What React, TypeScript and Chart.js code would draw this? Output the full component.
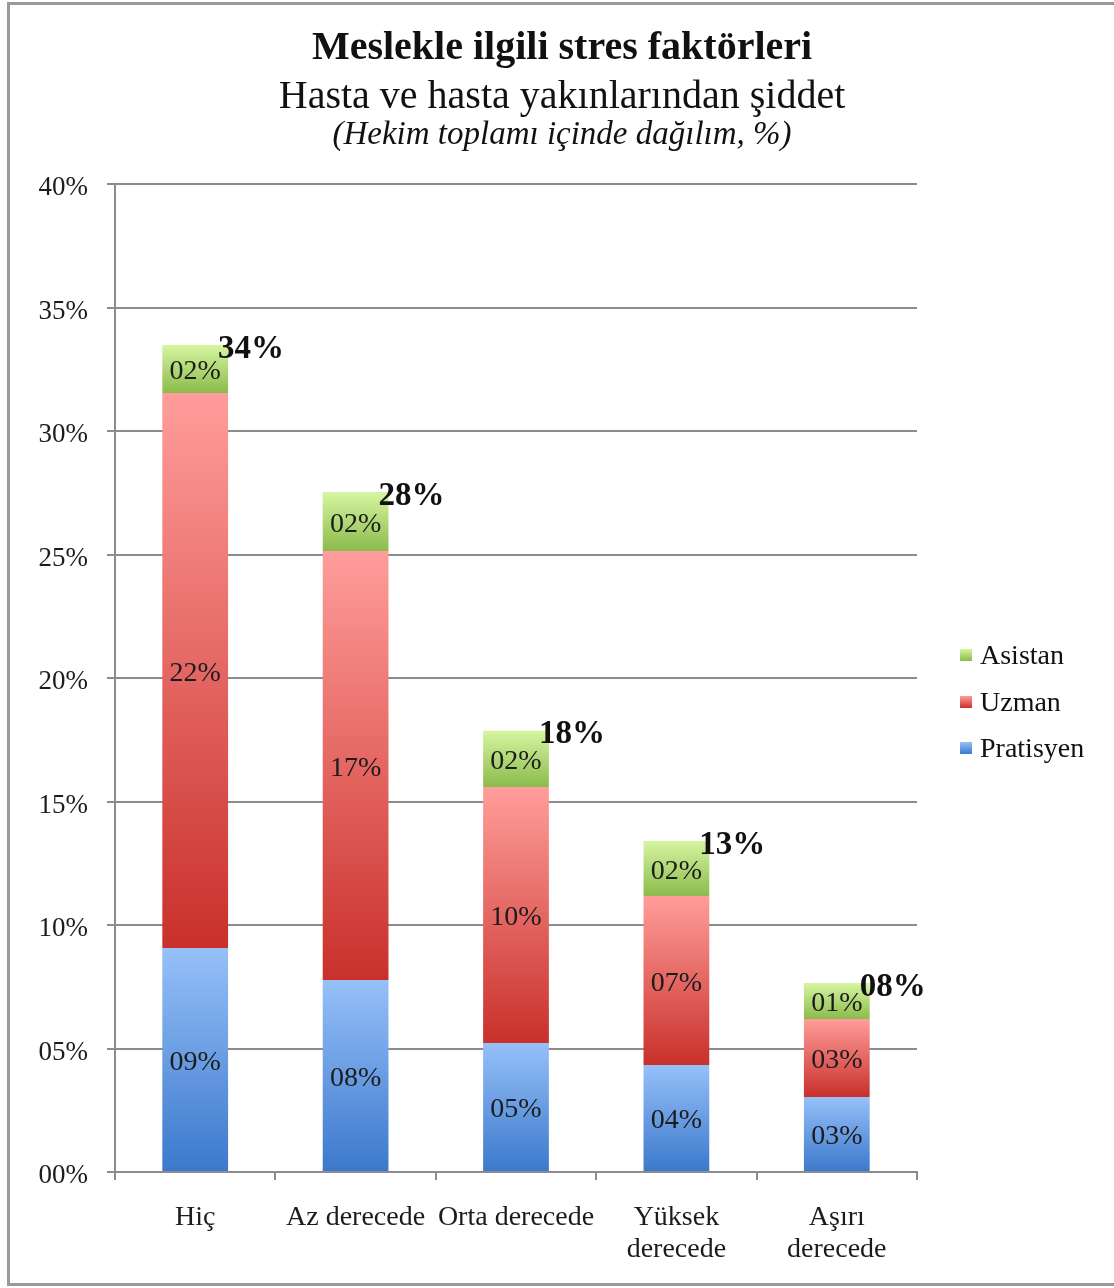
import React, { useEffect, useRef } from "react";
import { Chart, registerables } from "chart.js";

Chart.register(...registerables);

const categories: (string | string[])[] = [
  "Hiç",
  "Az derecede",
  "Orta derecede",
  ["Yüksek", "derecede"],
  ["Aşırı", "derecede"],
];
const pratisyen = [9.07, 7.77, 5.22, 4.33, 3.04];
const uzman = [22.47, 17.37, 10.37, 6.84, 3.15];
const asistan = [1.94, 2.39, 2.27, 2.23, 1.46];
const totals = [34, 28, 18, 13, 8];
const seriesNames = ["Pratisyen", "Uzman", "Asistan"];
const yMin = 0;
const yMax = 40;
const yStep = 5;

const titleText = "Meslekle ilgili stres faktörleri";
const subtitleText = "Hasta ve hasta yakınlarından şiddet";
const noteText = "(Hekim toplamı içinde dağılım, %)";

const FONT = "'Liberation Serif', 'Times New Roman', serif";
const gradColors: [string, string][] = [
  ["#96c0f8", "#3b78cc"],
  ["#ff9d9a", "#c9302b"],
  ["#d6f5a0", "#8bbb4c"],
];

const pct = (v: number) => String(Math.round(v)).padStart(2, "0") + "%";

function gradFill(dsIndex: number) {
  return (ctx: any) => {
    const chart = ctx.chart;
    const y = chart.scales?.y;
    const [top, bottom] = gradColors[dsIndex];
    if (!chart.chartArea || !y || ctx.type !== "data") return bottom;
    let base = 0;
    for (let d = 0; d < ctx.datasetIndex; d++) base += chart.data.datasets[d].data[ctx.dataIndex] as number;
    const v = chart.data.datasets[ctx.datasetIndex].data[ctx.dataIndex] as number;
    const yTop = y.getPixelForValue(base + v);
    const yBot = y.getPixelForValue(base);
    if (!isFinite(yTop) || !isFinite(yBot) || yTop === yBot) return bottom;
    const g = chart.ctx.createLinearGradient(0, yTop, 0, yBot);
    g.addColorStop(0, top);
    g.addColorStop(1, bottom);
    return g;
  };
}

const decorPlugin = {
  id: "decor",
  afterDatasetsDraw(chart: any) {
    const c = chart.ctx;
    c.save();
    c.fillStyle = "#1c1c1c";
    c.textAlign = "center";
    c.textBaseline = "middle";
    c.font = `28px ${FONT}`;
    chart.data.datasets.forEach((ds: any, di: number) => {
      const meta = chart.getDatasetMeta(di);
      meta.data.forEach((el: any, i: number) => {
        c.fillText(pct(ds.data[i]), el.x, (el.y + el.base) / 2 + 3);
      });
    });
    const last = chart.getDatasetMeta(chart.data.datasets.length - 1);
    c.font = `bold 33px ${FONT}`;
    c.textAlign = "left";
    c.fillStyle = "#111";
    last.data.forEach((el: any, i: number) => {
      c.fillText(pct(totals[i]), el.x + el.width / 2 - 10, el.y + 4);
    });
    c.restore();
  },
  afterDraw(chart: any) {
    const c = chart.ctx;
    c.save();
    c.fillStyle = "#111";
    c.textAlign = "center";
    c.textBaseline = "middle";
    c.font = `bold 40px ${FONT}`;
    c.fillText(titleText, 562, 49);
    c.font = `40px ${FONT}`;
    c.fillText(subtitleText, 562, 97);
    c.font = `italic 33px ${FONT}`;
    c.fillText(noteText, 562, 135);
    // legend
    const order = [2, 1, 0];
    const ys = [655, 702, 748];
    c.textAlign = "left";
    c.font = `28px ${FONT}`;
    order.forEach((di, k) => {
      const [t, b] = gradColors[di];
      const g = c.createLinearGradient(0, ys[k] - 6, 0, ys[k] + 6);
      g.addColorStop(0, t);
      g.addColorStop(1, b);
      c.fillStyle = g;
      c.fillRect(960, ys[k] - 6, 12, 12);
      c.fillStyle = "#111";
      c.fillText(seriesNames[di], 980, ys[k] + 2);
    });
    c.restore();
  },
};

export default function App() {
  const ref = useRef<HTMLCanvasElement | null>(null);
  useEffect(() => {
    if (!ref.current) return;
    const gridColor = "#8c8c8c";
    const chart = new Chart(ref.current, {
      type: "bar",
      data: {
        labels: categories as any,
        datasets: [
          { label: seriesNames[0], data: pratisyen, backgroundColor: gradFill(0) as any },
          { label: seriesNames[1], data: uzman, backgroundColor: gradFill(1) as any },
          { label: seriesNames[2], data: asistan, backgroundColor: gradFill(2) as any },
        ],
      },
      options: {
        responsive: false,
        animation: false,
        devicePixelRatio: 1,
        layout: { padding: { top: 184, left: 10, right: 197, bottom: 0 } },
        datasets: { bar: { barPercentage: 0.41, categoryPercentage: 1, borderWidth: 0 } },
        plugins: {
          legend: { display: false },
          title: { display: false },
          tooltip: { enabled: false },
        },
        scales: {
          x: {
            stacked: true,
            grid: { offset: true, drawOnChartArea: false, drawTicks: true, tickLength: 8, color: gridColor, lineWidth: 2 },
            border: { color: gridColor, width: 2 },
            ticks: { color: "#1c1c1c", font: { family: FONT, size: 28, lineHeight: 32 / 28 }, padding: 22, maxRotation: 0, autoSkip: false },
            afterFit: (s: any) => { s.height = 116; },
          },
          y: {
            stacked: true,
            min: yMin,
            max: yMax,
            grid: { color: gridColor, lineWidth: 2, tickLength: 8, drawTicks: true },
            border: { color: gridColor, width: 2 },
            ticks: {
              stepSize: yStep,
              color: "#1c1c1c",
              font: { family: FONT, size: 27 },
              padding: 19,
              labelOffset: 4,
              callback: (v: any) => String(v).padStart(2, "0") + "%",
            },
            afterFit: (s: any) => { s.width = 105; },
          },
        },
      },
      plugins: [decorPlugin],
    });
    return () => chart.destroy();
  }, []);
  return (
    <div style={{ position: "absolute", left: 0, top: 0, width: 1114, height: 1288, overflow: "hidden", background: "#fff" }}>
      <div style={{ position: "absolute", left: 7, top: 2, width: 1200, height: 1284, border: "3px solid #9a9a9a", boxSizing: "border-box" }} />
      <canvas ref={ref} width={1114} height={1288} style={{ position: "absolute", left: 0, top: 0, width: 1114, height: 1288 }} />
    </div>
  );
}
